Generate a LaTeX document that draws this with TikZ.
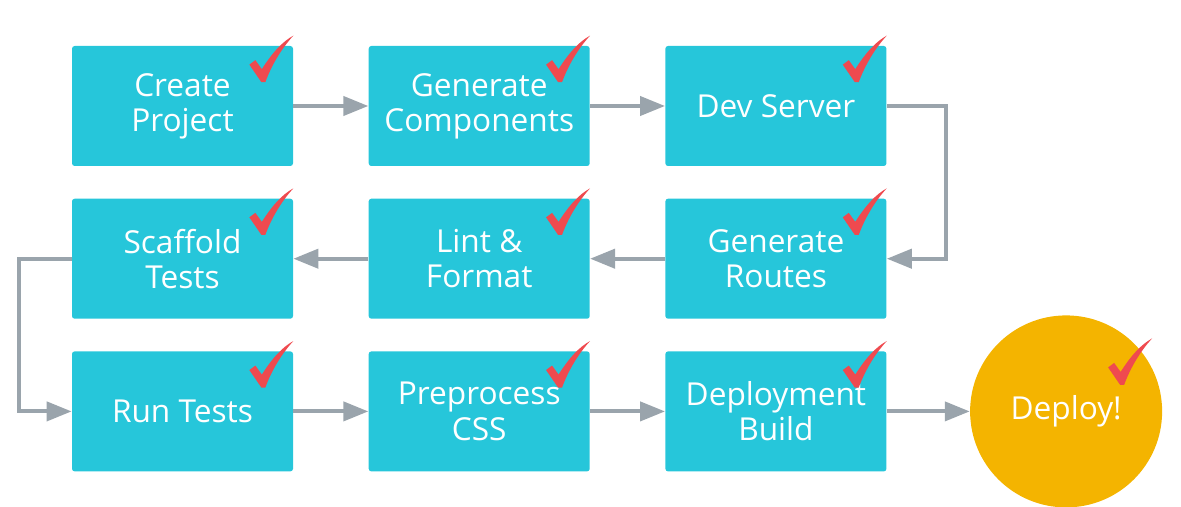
\documentclass[tikz,border=0pt]{standalone}
\usepackage{fontspec}
\setmainfont{Open Sans}
\usetikzlibrary{positioning, arrows.meta}

\definecolor{boxcyan}{HTML}{26C6DA}
\definecolor{deployamber}{HTML}{F4B400}
\definecolor{linegray}{HTML}{9AA4AC}
\definecolor{checkred}{HTML}{EF4A4F}

\tikzset{
  donemark/.pic = {
    \fill[checkred] (-0.88,-0.38) -- (-0.76,-0.29) -- (-0.63,-0.47)
      .. controls (-0.42,-0.14) and (-0.22,0.08) .. (0.0,0.2)
      .. controls (-0.24,-0.06) and (-0.44,-0.40) .. (-0.56,-0.73)
      -- (-0.64,-0.73) -- cycle;
  }
}

\begin{document}
\begin{tikzpicture}[
  node distance=0.64cm and 1.5cm,
  box/.style = {rectangle, fill=boxcyan, rounded corners=1.5pt, minimum width=4.42cm, minimum height=2.4cm, text=white, font=\fontsize{18}{20}\selectfont, align=center},
  goal/.style = {circle, fill=deployamber, minimum size=3.84cm, inner sep=0pt, text=white, font=\fontsize{18}{20}\selectfont},
  arrow/.style = {-{Triangle[length=0.5cm, width=0.38cm]}, line width=0.08cm, draw=linegray}
  ]

\useasboundingbox (0,0) rectangle (23.62,-10.14);

\node[box] (create) at (3.65,-2.12) {Create\\Project};
\node[box, right=of create] (generate) {Generate\\Components};
\node[box, right=of generate] (dev) {Dev Server};
\node[box, below=of dev] (routes) {Generate\\Routes};
\node[box, left=of routes] (lint) {Lint \&\\Format};
\node[box, left=of lint] (scaffold) {Scaffold\\Tests};
\node[box, below=of scaffold] (run) {Run Tests};
\node[box, right=of run] (css) {Preprocess\\CSS};
\node[box, right=of css] (build) {Deployment\\Build};
\node[goal, right=1.66cm of build] (deploy) {Deploy!};

\draw[arrow] (create) -- (generate);
\draw[arrow] (generate) -- (dev);
\draw[arrow] (dev.east) -- ++(1.18,0) |- (routes.east);
\draw[arrow] (routes) -- (lint);
\draw[arrow] (lint) -- (scaffold);
\draw[arrow] (scaffold.west) -- ++(-1.06,0) |- (run.west);
\draw[arrow] (run) -- (css);
\draw[arrow] (css) -- (build);
\draw[arrow] (build) -- (deploy);

% check marks
\foreach \n in {create, generate, dev, routes, lint, scaffold, run, css, build}
  \pic at (\n.north east) {donemark};
\pic at ([shift={(1.72,1.26)}]deploy.center) {donemark};

\end{tikzpicture}
\end{document}
